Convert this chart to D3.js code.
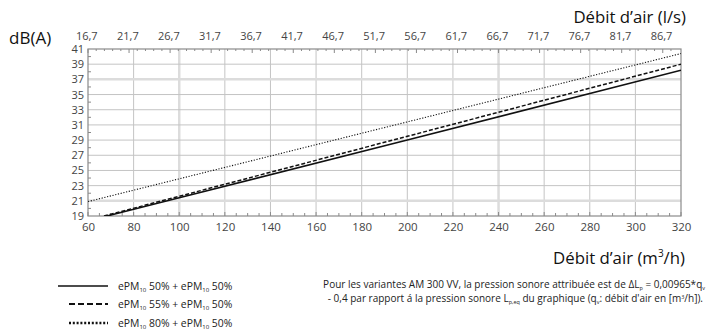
<!DOCTYPE html>
<html>
<head>
<meta charset="utf-8">
<script src="https://cdn.jsdelivr.net/npm/d3@7/dist/d3.min.js"></script>
<style>
  html, body { margin: 0; padding: 0; background: #fff; }
  svg { display: block; font-family: "Open Sans", sans-serif; }
</style>
</head>
<body>
<svg id="chart" width="713" height="332"></svg>
<script>
// Sound pressure level vs. air flow for three filter combinations
const flowTicks = [60, 80, 100, 120, 140, 160, 180, 200, 220, 240, 260, 280, 300, 320];     // m³/h
const dbTicks = [19, 21, 23, 25, 27, 29, 31, 33, 35, 37, 39, 41];
const lsTicks = [16.7, 21.7, 26.7, 31.7, 36.7, 41.7, 46.7, 51.7, 56.7, 61.7, 66.7, 71.7, 76.7, 81.7, 86.7]; // l/s

// [air flow m³/h, dB(A)]
const seriesSolid  = [[68.3, 19.0], [100, 21.4], [200, 29.0], [320, 38.2]];
const seriesDashed = [[67.0, 19.0], [100, 21.6], [200, 29.5], [320, 39.0]];
const seriesDotted = [[60, 20.9], [100, 23.9], [200, 31.4], [320, 40.4]];

const legendLabels = [
  ["50%", "50%"],
  ["55%", "50%"],
  ["80%", "50%"]
];

const svg = d3.select("#chart");
const m = { left: 88, right: 681, top: 49, bottom: 216 };

const x = d3.scaleLinear().domain([60, 320]).range([m.left, m.right]);
const y = d3.scaleLinear().domain([19, 41]).range([m.bottom, m.top]);
// l/s on the top axis: 1 l/s = 3.6 m³/h
const xls = d3.scaleLinear().domain([60 / 3.6, 320 / 3.6]).range([m.left, m.right]);

const grid = svg.append("g");
// vertical grid lines
grid.selectAll("line.v").data(flowTicks.slice(1, -1)).join("line")
  .attr("x1", d => x(d)).attr("x2", d => x(d))
  .attr("y1", m.top).attr("y2", m.bottom)
  .attr("stroke", d => (d === 100 || d === 240) ? "#dcdcdc" : "#c4c4c4")
  .attr("stroke-width", d => (d === 100 || d === 240) ? 2.5 : 1);
// horizontal grid lines
grid.selectAll("line.h").data(dbTicks.slice(1, -1)).join("line")
  .attr("x1", m.left).attr("x2", m.right)
  .attr("y1", d => y(d)).attr("y2", d => y(d))
  .attr("stroke", d => (d === 37 || d === 21) ? "#dcdcdc" : "#c4c4c4")
  .attr("stroke-width", d => (d === 37 || d === 21) ? 2.5 : 1);

// frame
svg.append("rect")
  .attr("x", m.left).attr("y", m.top)
  .attr("width", m.right - m.left).attr("height", m.bottom - m.top)
  .attr("fill", "none").attr("stroke", "#8a8a8a").attr("stroke-width", 1.2);

const tickCol = "#8a8a8a";
// bottom axis
const bottomAxis = d3.axisBottom(x).tickValues(flowTicks).tickSize(0).tickPadding(7).tickFormat(d3.format("d"));
const gb = svg.append("g").attr("transform", `translate(0,${m.bottom})`).call(bottomAxis);
gb.select(".domain").remove();
gb.selectAll("text").attr("font-size", 11.5).attr("fill", "#444").attr("font-family", "'Open Sans', sans-serif");
// minor ticks on the bottom, pointing up
svg.append("g").selectAll("line").data(d3.range(60, 321, 5)).join("line")
  .attr("x1", d => x(d)).attr("x2", d => x(d))
  .attr("y1", m.bottom).attr("y2", d => m.bottom - (d % 20 === 0 ? 4 : 3))
  .attr("stroke", tickCol).attr("stroke-width", 1);

// left axis
const leftAxis = d3.axisLeft(y).tickValues(dbTicks).tickSize(0).tickPadding(4).tickFormat(d3.format("d"));
const gl = svg.append("g").attr("transform", `translate(${m.left},0)`).call(leftAxis);
gl.select(".domain").remove();
gl.selectAll("text").attr("font-size", 11).attr("fill", "#444").attr("font-family", "'Open Sans', sans-serif");
svg.append("g").selectAll("line").data(d3.range(20, 41, 2)).join("line")
  .attr("x1", m.left).attr("x2", m.left + 3)
  .attr("y1", d => y(d)).attr("y2", d => y(d))
  .attr("stroke", tickCol).attr("stroke-width", 1);

// top axis (l/s)
const topAxis = d3.axisTop(xls).tickValues(lsTicks).tickSize(0).tickPadding(9)
  .tickFormat(d => d3.format(".1f")(d).replace(".", ","));
const gt = svg.append("g").attr("transform", `translate(0,${m.top})`).call(topAxis);
gt.select(".domain").remove();
gt.selectAll("text").attr("font-size", 11).attr("fill", "#444").attr("font-family", "'Open Sans', sans-serif")
  .attr("dx", -2);
const lsMinor = d3.range(17, 89, 1).map(v => v - 1 / 3);
svg.append("g").selectAll("line").data(lsMinor).join("line")
  .attr("x1", d => xls(d)).attr("x2", d => xls(d))
  .attr("y1", m.top).attr("y2", (d, i) => m.top + (i % 5 === 0 ? 4 : 2))
  .attr("stroke", tickCol).attr("stroke-width", 1);

// axis titles
svg.append("text").attr("x", 9).attr("y", 44).attr("font-size", 17).attr("fill", "#111").text("dB(A)");
svg.append("text").attr("x", 686).attr("y", 23).attr("text-anchor", "end")
  .attr("font-size", 16.8).attr("fill", "#111").text("Débit d’air (l/s)");
const xt = svg.append("text").attr("x", 685).attr("y", 264).attr("text-anchor", "end")
  .attr("font-size", 16.8).attr("fill", "#111");
xt.append("tspan").text("Débit d’air (m");
xt.append("tspan").attr("font-size", 10).attr("dy", -7).text("3");
xt.append("tspan").attr("dy", 7).text("/h)");

// series
svg.append("clipPath").attr("id", "plotClip").append("rect")
  .attr("x", m.left).attr("y", m.top).attr("width", m.right - m.left).attr("height", m.bottom - m.top);
const line = d3.line().x(d => x(d[0])).y(d => y(d[1]));
const styles = [
  { data: seriesSolid, w: 1.6, dash: null },
  { data: seriesDashed, w: 1.5, dash: "4,2" },
  { data: seriesDotted, w: 1.1, dash: "1.2,1.6" }
];
const lines = svg.append("g").attr("clip-path", "url(#plotClip)");
styles.forEach(s => {
  lines.append("path").attr("d", line(s.data)).attr("fill", "none")
    .attr("stroke", "#111").attr("stroke-width", s.w)
    .attr("stroke-dasharray", s.dash);
});

// legend
const legendY = [286, 304, 323];
const legendStyles = [
  { w: 1.4, dash: null, x1: 58, x2: 108 },
  { w: 2, dash: "6,3", x1: 69, x2: 108 },
  { w: 2.6, dash: "2,1.8", x1: 69, x2: 108 }
];
const lg = svg.append("g");
legendLabels.forEach((lab, i) => {
  const st = legendStyles[i];
  lg.append("line").attr("x1", st.x1).attr("x2", st.x2)
    .attr("y1", legendY[i]).attr("y2", legendY[i])
    .attr("stroke", "#111").attr("stroke-width", st.w).attr("stroke-dasharray", st.dash);
  const t = lg.append("text").attr("x", 118).attr("y", legendY[i] + 3.5)
    .attr("font-size", 10.4).attr("fill", "#222");
  t.append("tspan").text("ePM");
  t.append("tspan").attr("font-size", 6).attr("dy", 2).text("10");
  t.append("tspan").attr("dy", -2).text(" " + lab[0] + " + ePM");
  t.append("tspan").attr("font-size", 6).attr("dy", 2).text("10");
  t.append("tspan").attr("dy", -2).text(" " + lab[1]);
});

// note about the AM 300 VV variants
const note = svg.append("g").attr("font-size", 10).attr("fill", "#222");
const n1 = note.append("text").attr("x", 705).attr("y", 288).attr("text-anchor", "end");
n1.append("tspan").text("Pour les variantes AM 300 VV, la pression sonore attribuée est de ΔL");
n1.append("tspan").attr("font-size", 5.5).attr("dy", 2).text("p");
n1.append("tspan").attr("dy", -2).text(" = 0,00965*q");
n1.append("tspan").attr("font-size", 5.5).attr("dy", 2).text("v");
n1.append("tspan").attr("dy", -2).text(" ");
const n2 = note.append("text").attr("x", 703).attr("y", 302).attr("text-anchor", "end");
n2.append("tspan").text("- 0,4 par rapport á la pression sonore L");
n2.append("tspan").attr("font-size", 5.5).attr("dy", 2).text("p,eq");
n2.append("tspan").attr("dy", -2).text(" du graphique (q");
n2.append("tspan").attr("font-size", 5.5).attr("dy", 2).text("v");
n2.append("tspan").attr("dy", -2).text(": débit d'air en [m");
n2.append("tspan").attr("font-size", 5.5).attr("dy", -3).text("3");
n2.append("tspan").attr("dy", 3).text("/h]).");
</script>
</body>
</html>
